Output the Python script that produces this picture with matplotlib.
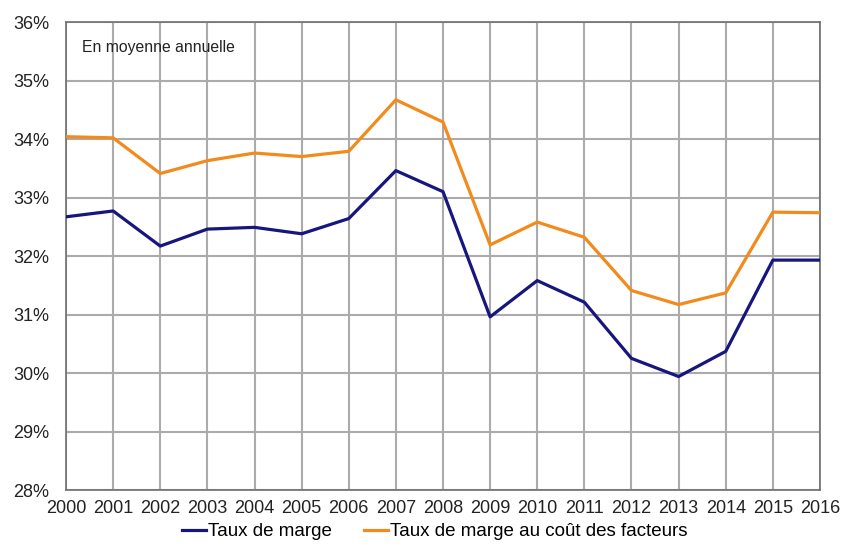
import matplotlib
matplotlib.use('Agg')
import matplotlib.pyplot as plt
from matplotlib.ticker import FuncFormatter

plt.rcParams['font.family'] = ['Liberation Sans', 'DejaVu Sans']

years = list(range(2000, 2017))
taux_marge = [32.67, 32.77, 32.17, 32.46, 32.49, 32.38, 32.64, 33.46, 33.10,
              30.96, 31.58, 31.21, 30.25, 29.94, 30.37, 31.93, 31.93]
taux_marge_facteurs = [34.04, 34.02, 33.41, 33.63, 33.76, 33.70, 33.79, 34.67, 34.29,
                       32.19, 32.58, 32.32, 31.41, 31.17, 31.37, 32.75, 32.74]
y_ticks = list(range(28, 37))

fig = plt.figure(figsize=(8.41, 5.45), dpi=100)
ax = fig.add_axes([0.0785, 0.1009, 0.8965, 0.8587])

ax.plot(years, taux_marge, color='#16167e', lw=2.3, label='Taux de marge', zorder=3)
ax.plot(years, taux_marge_facteurs, color='#f28a1c', lw=2.3,
        label='Taux de marge au coût des facteurs', zorder=3)

ax.set_xlim(2000, 2016)
ax.set_ylim(28, 36)
ax.set_xticks(years)
ax.set_yticks(y_ticks)
ax.yaxis.set_major_formatter(FuncFormatter(lambda v, p: '%d%%' % v))
ax.grid(True, color='#ababab', lw=1.5)
ax.set_axisbelow(True)
for s in ax.spines.values():
    s.set_color('#707070')
    s.set_linewidth(1.2)
ax.tick_params(length=0, labelsize=13, colors='#222222')
ax.tick_params(axis='y', pad=12)
ax.tick_params(axis='x', pad=7)

ax.text(0.021, 0.945, 'En moyenne annuelle', transform=ax.transAxes,
        fontsize=11.3, color='#222222', va='center')

fig.legend(loc='center', bbox_to_anchor=(0.517, 0.024), ncol=2, frameon=False,
           fontsize=13.5, handlelength=1.3, handletextpad=0.1, columnspacing=1.7,
           borderpad=0.1)

fig.savefig('out.png', dpi=100)
